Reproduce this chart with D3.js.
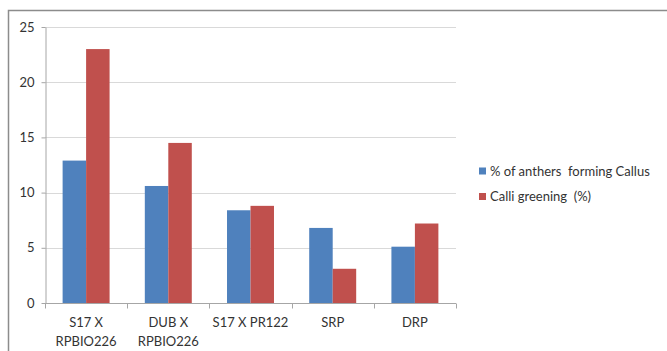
<!DOCTYPE html>
<html><head><meta charset="utf-8">
<script src="https://cdn.jsdelivr.net/npm/d3@7"></script>
<style>body{margin:0;background:#fff}svg{display:block}</style>
</head><body>
<script>
const categories = [["S17 X","RPBIO226"],["DUB X","RPBIO226"],["S17 X PR122"],["SRP"],["DRP"]];
const seriesNames = ["% of anthers  forming Callus","Calli greening  (%)"];
const callus = [12.9, 10.6, 8.4, 6.8, 5.1];
const greening = [23.0, 14.5, 8.8, 3.1, 7.2];
const yTicks = [0,5,10,15,20,25];
const colors = ["#4f81bd","#c0504d"];

(function(){
const W=667,H=351;
const svg=d3.select("body").append("svg").attr("width",W).attr("height",H);
const font="Lato, 'Open Sans', sans-serif";
svg.append("path").attr("d","M8.5,351 V10.5 H667").attr("fill","none").attr("stroke","#8c8c8c").attr("stroke-width",1.5);

const pL=45,pR=456,pT=27,pB=303;
const x=d3.scaleBand().domain(d3.range(categories.length)).range([pL,pR]);
const y=d3.scaleLinear().domain([0,25]).range([pB,pT]);
const xs=d3.scaleBand().domain([0,1]).range([0,x.bandwidth()]).paddingInner(0).paddingOuter(0.75);

svg.append("g").selectAll("line").data(yTicks.filter(d=>d>0)).join("line")
  .attr("x1",pL).attr("x2",pR).attr("y1",d=>Math.round(y(d))+0.5).attr("y2",d=>Math.round(y(d))+0.5)
  .attr("stroke","#d9d9d9").attr("stroke-width",1.2);

const data=[callus,greening];
categories.forEach((c,i)=>{
  data.forEach((s,j)=>{
    svg.append("rect").attr("x",x(i)+xs(j)).attr("width",xs.bandwidth())
      .attr("y",y(s[i])).attr("height",y(0)-y(s[i])).attr("fill",colors[j]);
  });
});

const ya=svg.append("g").attr("transform",`translate(${pL+0.5},0)`)
  .call(d3.axisLeft(y).tickValues(yTicks).tickSize(4).tickSizeOuter(0));
ya.select(".domain").attr("stroke","#a6a6a6");
ya.selectAll(".tick line").attr("stroke","#a6a6a6");
ya.selectAll("text").attr("font-family",font).attr("font-size",13).attr("fill","#333").attr("x",-11);

const xa=svg.append("g").attr("transform",`translate(0,${pB+0.5})`);
xa.append("line").attr("x1",pL).attr("x2",pR).attr("stroke","#a6a6a6");
const edges=d3.range(categories.length+1).map(i=>i<categories.length?x(i):pR);
xa.selectAll(".tk").data(edges).join("line").attr("class","tk")
  .attr("x1",d=>Math.round(d)+0.5).attr("x2",d=>Math.round(d)+0.5).attr("y1",0).attr("y2",5).attr("stroke","#a6a6a6");
categories.forEach((c,i)=>{
  const t=svg.append("text").attr("text-anchor","middle").attr("font-family",font).attr("font-size",13).attr("fill","#333");
  c.forEach((ln,k)=>t.append("tspan").attr("x",x(i)+x.bandwidth()/2).attr("y",327+k*18.5).text(ln));
});

seriesNames.forEach((n,j)=>{
  const cy=171+j*25.5;
  svg.append("rect").attr("x",479).attr("y",cy-3.5).attr("width",7).attr("height",7).attr("fill",colors[j]);
  svg.append("text").attr("x",490).attr("y",cy+4.5).attr("font-family",font).attr("font-size",13).attr("fill","#333").text(n).style("white-space","pre");
});
})();
</script>
</body></html>
